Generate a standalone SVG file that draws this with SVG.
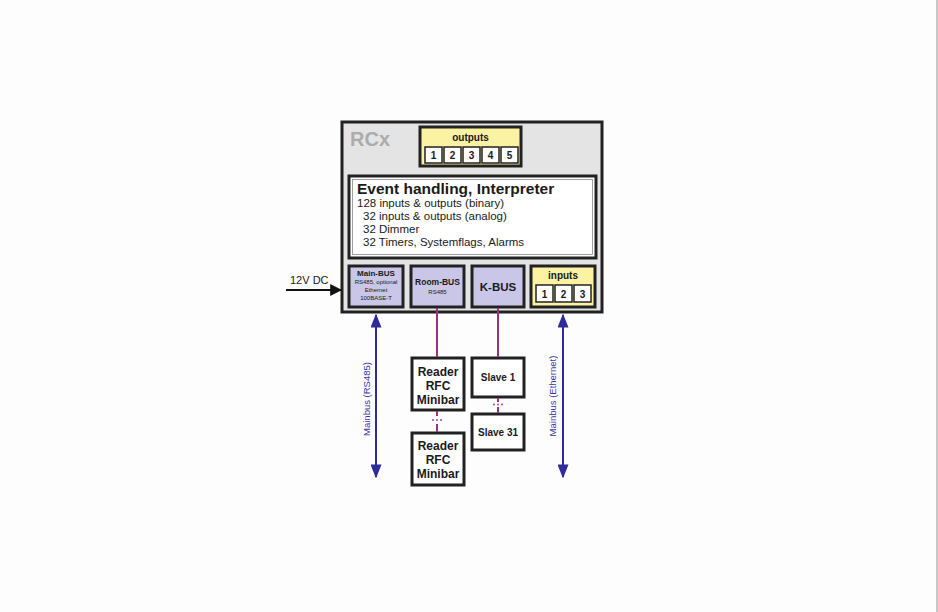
<svg xmlns="http://www.w3.org/2000/svg" width="938" height="612" viewBox="0 0 938 612">
<defs>
<style>
text{font-family:"Liberation Sans",Arial,sans-serif;fill:#1a1a1a}
.b{font-weight:bold}
.box{stroke:#222;stroke-width:3}
.cell{fill:#fff;stroke:#222;stroke-width:1.5}
.yel{fill:#fbf2a2}
.lav{fill:#c9c6e8}
.pl{stroke:#a0307f;stroke-width:2;fill:none}
.bl{stroke:#2e2c9a;stroke-width:2;fill:none}
.bt{fill:#3a38a6;font-size:9.5px}
</style>
<marker id="ab" viewBox="0 0 10 10" refX="9" refY="5" markerWidth="14" markerHeight="11" orient="auto-start-reverse" markerUnits="userSpaceOnUse" preserveAspectRatio="none"><path d="M0,0L10,5L0,10z" fill="#2e2c9a"/></marker>
<marker id="ak2" viewBox="0 0 10 10" refX="9" refY="5" markerWidth="12" markerHeight="12" orient="auto" markerUnits="userSpaceOnUse" preserveAspectRatio="none"><path d="M0,0L10,5L0,10z" fill="#111"/></marker>
</defs>
<rect width="938" height="612" fill="#fdfdfd"/>
<line x1="937" y1="0" x2="937" y2="612" stroke="#b5b5b5" stroke-width="1.5"/>

<g id="rcx">
<rect class="box" x="342" y="122" width="260" height="190" fill="#e4e4e4"/>
<text x="350" y="146" class="b" font-size="20" style="fill:#acacac">RCx</text>
</g>

<g id="outputs">
<rect class="box yel" x="420" y="127" width="101" height="39"/>
<text x="470.5" y="141" class="b" font-size="10" text-anchor="middle">outputs</text>
<rect class="cell" x="425" y="147" width="17" height="16"/>
<rect class="cell" x="444" y="147" width="17" height="16"/>
<rect class="cell" x="463" y="147" width="17" height="16"/>
<rect class="cell" x="482" y="147" width="17" height="16"/>
<rect class="cell" x="501" y="147" width="17" height="16"/>
<g font-size="10" class="b" text-anchor="middle">
<text x="433.5" y="159">1</text><text x="452.5" y="159">2</text><text x="471.5" y="159">3</text><text x="490.5" y="159">4</text><text x="509.5" y="159">5</text>
</g>
</g>

<g id="event">
<rect class="box" x="349" y="176" width="247" height="82" fill="#fff"/>
<rect x="352.5" y="179.5" width="240" height="75" fill="none" stroke="#888" stroke-width="0.8"/>
<text x="357" y="194" class="b" font-size="15.5">Event handling, Interpreter</text>
<g font-size="11.5">
<text x="357" y="207">128 inputs &amp; outputs (binary)</text>
<text x="363" y="220">32 inputs &amp; outputs (analog)</text>
<text x="363" y="233">32 Dimmer</text>
<text x="363" y="246">32 Timers, Systemflags, Alarms</text>
</g>
</g>

<g id="mainbus">
<rect class="box lav" x="349" y="266" width="54" height="41"/>
<text x="376" y="276" class="b" font-size="8" text-anchor="middle">Main-BUS</text>
<g font-size="6" text-anchor="middle"><text x="376" y="284">RS485, optional</text><text x="376" y="292">Ethernet</text><text x="376" y="299.5">100BASE-T</text></g>
</g>

<g id="roombus">
<rect class="box lav" x="411" y="266" width="53" height="41"/>
<text x="437.5" y="285" class="b" font-size="8.5" text-anchor="middle">Room-BUS</text>
<text x="437.5" y="294" font-size="6" text-anchor="middle">RS485</text>
</g>

<g id="kbus">
<rect class="box lav" x="472" y="266" width="52" height="41"/>
<text x="498" y="291" class="b" font-size="11.5" text-anchor="middle">K-BUS</text>
</g>

<g id="inputs">
<rect class="box yel" x="531" y="266" width="64" height="41"/>
<text x="563" y="279" class="b" font-size="10" text-anchor="middle">inputs</text>
<rect class="cell" x="536" y="285" width="17" height="17"/>
<rect class="cell" x="555" y="285" width="17" height="17"/>
<rect class="cell" x="574" y="285" width="17" height="17"/>
<g font-size="10" class="b" text-anchor="middle"><text x="544.5" y="297.5">1</text><text x="563.5" y="297.5">2</text><text x="582.5" y="297.5">3</text></g>
</g>

<g id="reader1">
<rect class="box" x="412" y="358" width="52" height="52" fill="#fff"/>
<g class="b" font-size="12" text-anchor="middle"><text x="438" y="376">Reader</text><text x="438" y="390">RFC</text><text x="438" y="404">Minibar</text></g>
</g>
<g id="reader2">
<rect class="box" x="412" y="433" width="52" height="52" fill="#fff"/>
<g class="b" font-size="12" text-anchor="middle"><text x="438" y="450">Reader</text><text x="438" y="464">RFC</text><text x="438" y="478">Minibar</text></g>
</g>
<g id="slave1">
<rect class="box" x="472" y="358" width="52" height="39" fill="#fff"/>
<text x="498" y="381" class="b" font-size="10" text-anchor="middle">Slave 1</text>
</g>
<g id="slave31">
<rect class="box" x="472" y="414" width="52" height="36" fill="#fff"/>
<text x="498" y="436" class="b" font-size="10" text-anchor="middle">Slave 31</text>
</g>

<g id="connectors">
<line x1="286" y1="290" x2="341" y2="290" stroke="#111" stroke-width="2" marker-end="url(#ak2)"/>
<line class="pl" x1="437" y1="308" x2="437" y2="357"/>
<line class="pl" x1="437" y1="411" x2="437" y2="416"/>
<line class="pl" x1="437" y1="424" x2="437" y2="432"/>
<line class="pl" x1="498" y1="308" x2="498" y2="357"/>
<line class="pl" x1="498" y1="398" x2="498" y2="402"/>
<line class="pl" x1="498" y1="407" x2="498" y2="413"/>
<g fill="#a0307f"><circle cx="433" cy="420" r="0.9"/><circle cx="437" cy="420" r="0.9"/><circle cx="441" cy="420" r="0.9"/>
<circle cx="494" cy="404.5" r="0.9"/><circle cx="498" cy="404.5" r="0.9"/><circle cx="502" cy="404.5" r="0.9"/></g>
<line class="bl" x1="376" y1="315" x2="376" y2="477" marker-start="url(#ab)" marker-end="url(#ab)"/>
<line class="bl" x1="563" y1="315" x2="563" y2="477" marker-start="url(#ab)" marker-end="url(#ab)"/>
<text class="bt" transform="translate(370,399) rotate(-90)" text-anchor="middle">Mainbus (RS485)</text>
<text class="bt" transform="translate(556,396) rotate(-90)" text-anchor="middle">Mainbus (Ethernet)</text>
<text x="290" y="284" font-size="11">12V DC</text>
</g>
</svg>
